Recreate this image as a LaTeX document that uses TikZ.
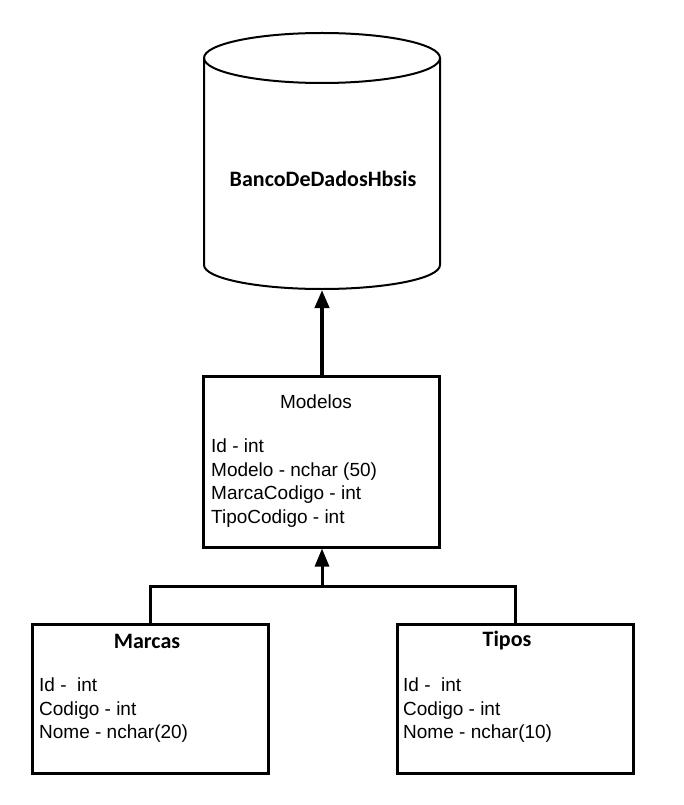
\documentclass[tikz,border=0pt]{standalone}
\usepackage{fontspec}
\setmainfont{Liberation Sans}
\newfontfamily\carlito{Carlito}
\usetikzlibrary{arrows.meta}
\tikzset{>={Triangle[length=18pt,width=14pt]}}
\tikzset{
  tabela/.style = {draw, line width=3pt, minimum width=236pt, inner sep=0pt},
  titulo/.style = {font=\carlito\bfseries\fontsize{22}{26}\selectfont},
  campos/.style = {anchor=north west, align=left, inner sep=0pt,
    font=\fontsize{19}{23.5}\selectfont},
  liga/.style = {line width=3pt}
}

\begin{document}
\begin{tikzpicture}[x=1pt,y=-1pt]
  \useasboundingbox (0,0) rectangle (684,805);
  % banco de dados
  \draw[line width=2pt] (322,58) ellipse (118pt and 25pt);
  \draw[line width=2pt] (204,58) -- (204,265)
    arc[start angle=180, end angle=360, x radius=118pt, y radius=24pt] -- (440,58);
  \coordinate (banco) at (322,290);
  \node[titulo] (nomebanco) at (323,179) {BancoDeDadosHbsis};
  % tabelas
  \node[tabela, minimum height=171pt] (modelos) at (321.5,461.5) {};
  \node[tabela, minimum height=149pt] (marcas) at (150,698.5) {};
  \node[tabela, minimum height=149pt] (tipos) at (515,698.5) {};
  \node[font=\fontsize{19}{23}\selectfont] (titmodelos) at (316,402) {Modelos};
  \node[titulo] (titmarcas) at (147,641) {Marcas};
  \node[titulo] (tittipos) at (507,641) {Tipos};
  \node[campos] (cmodelos) at (211,439) {Id - int\\Modelo - nchar (50)\\MarcaCodigo - int\\TipoCodigo - int};
  \node[campos] (cmarcas) at (39,678) {Id - \ int\\Codigo - int\\Nome - nchar(20)};
  \node[campos] (ctipos) at (403,678) {Id - \ int\\Codigo - int\\Nome - nchar(10)};
  % ligacoes
  \coordinate (juncao) at (322,586);
  \draw[liga] (marcas.north) |- (juncao) -| (tipos.north);
  \draw[liga,->] (juncao) -- (juncao |- modelos.south);
  \draw[->,line width=4pt] (modelos.north -| banco) -- (banco);
\end{tikzpicture}
\end{document}
